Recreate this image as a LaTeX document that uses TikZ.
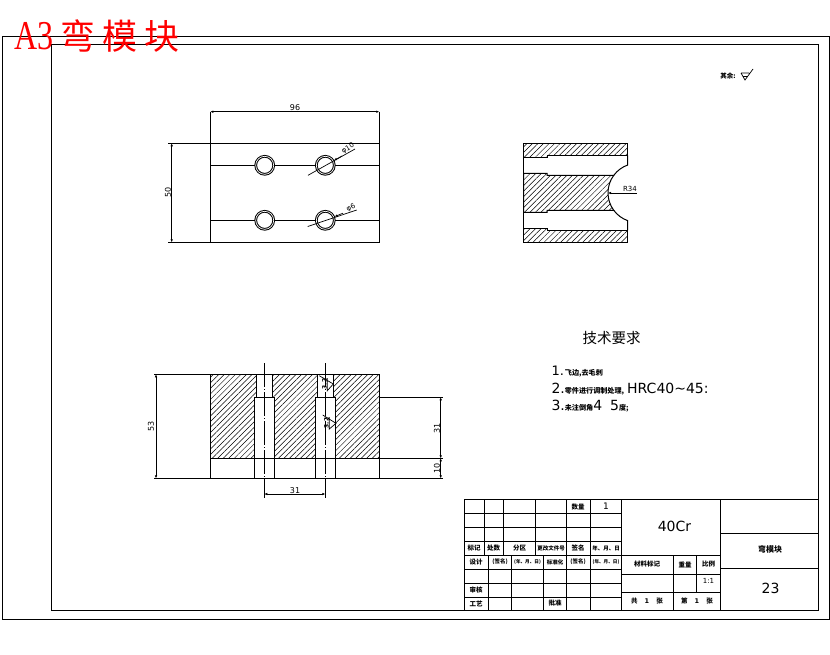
\documentclass[tikz,border=0pt]{standalone}
\usepackage{fontspec}
\setmainfont{DejaVu Sans}
\newfontfamily\cjk{Noto Sans CJK SC}
\newfontfamily\romanfont[FakeStretch=0.78]{Liberation Serif}
\newcommand{\reqcn}{\cjk\bfseries\fontsize{7.1}{8}\selectfont}
\usetikzlibrary{positioning,arrows.meta,patterns.meta}
\tikzset{>={Latex[length=3pt,width=2.6pt]}}

\begin{document}
\begin{tikzpicture}[x=1pt, y=-1pt, line width=1pt]
    \tikzset{%
      hatched/.style={draw, pattern={Lines[angle=45, distance=3.9pt, line width=0.5pt]}},
      hole/.style={circle, draw, fill=white, double, double distance=0.7pt, minimum size=18pt, inner sep=0pt},
      centerln/.style={dash pattern=on 24pt off 2pt on 1pt off 2pt, line width=0.8pt},
      dimln/.style={<->, line width=0.9pt},
      dimtxt/.style={font=\fontsize{8}{8}\selectfont, inner sep=0pt},
      cell/.style={font=\cjk\bfseries\fontsize{6.5}{7}\selectfont, inner sep=0pt},
      cellsm/.style={font=\cjk\bfseries\fontsize{5.5}{6}\selectfont, inner sep=0pt},
      reqtxt/.style={font=\fontsize{14}{15}\selectfont, inner sep=0pt, anchor=west},
      rough/.style={line width=0.7pt}
      }
    \useasboundingbox (0,0) rectangle (830,654);

    \draw (2.5,36.5) rectangle (829,619);
    \draw (51.5,44.5) rectangle (818.5,610);
    \node [font=\romanfont\fontsize{41}{41}\selectfont, text=red, inner sep=0pt, anchor=west] (Ytitle) at (14,36) {A3\hspace{7pt}\cjk\fontsize{35}{35}\selectfont 弯\hspace{7pt}模\hspace{7pt}块};

    \node [cell] (Yrest) at (728,76) {其余:};
    \draw [rough] (741,73) -- (749,73) (742.5,76.5) -- (747.5,76.5) (741,73) -- (745,80) -- (753,69);

    \draw (210.3,143.3) rectangle (379.3,242.3);
    \node [hole] (YholeA) at (264.7,165.3) {};
    \node [hole] (YholeB) at (325.3,165.3) {};
    \node [hole] (YholeC) at (264.7,220.3) {};
    \node [hole] (YholeD) at (325.3,220.3) {};
    \coordinate (YtopL) at (210.3,165.3);
    \coordinate (YtopR) at (379.3,165.3);
    \coordinate (YlowL) at (210.3,220.3);
    \coordinate (YlowR) at (379.3,220.3);
    \draw (YtopL) -- (YholeA) -- (YholeB) -- (YtopR);
    \draw (YlowL) -- (YholeC) -- (YholeD) -- (YlowR);

    \coordinate (Ywa) at (210.3,111.7);
    \coordinate (Ywb) at (379.3,111.7);
    \draw (Ywa) -- (210.3,143.3);
    \draw (Ywb) -- (379.3,143.3);
    \draw [dimln] (Ywa) -- (Ywb);
    \node [dimtxt] (Ytw) at (295,107.5) {96};
    \coordinate (Yha) at (171.7,143.3);
    \coordinate (Yhb) at (171.7,242.3);
    \draw (168,143.3) -- (210.3,143.3);
    \draw (168,242.3) -- (210.3,242.3);
    \draw [dimln] (Yha) -- (Yhb);
    \node [dimtxt, rotate=90] (Yth) at (168,192.5) {50};

    \coordinate (YldA) at (308,175.3);
    \coordinate (YldB) at (355,149);
    \coordinate (YldC) at (307.7,226.5);
    \coordinate (YldD) at (356.7,210);
    \draw [line width=0.7pt] (YldA) -- (YldB);
    \draw [line width=0.7pt] (YldC) -- (YldD);
    \draw [->, line width=0.7pt] (342,156) -- (334,160.4);
    \draw [->, line width=0.7pt] (343,213.2) -- (334.6,216.6);
    \node [dimtxt, rotate=30, font=\fontsize{7}{7}\selectfont] (Ytd) at (348,148.5) {φ10};
    \node [dimtxt, rotate=25, font=\fontsize{7}{7}\selectfont] (Yts) at (351,207.5) {φ6};

    \draw [hatched] (523.7,143.7) -- (627.7,143.7) -- (627.7,155.3) -- (547,155.3) -- (547,157.3) -- (523.7,157.3) -- cycle;
    \draw [hatched] (523.7,228.3) -- (547,228.3) -- (547,230.3) -- (627.7,230.3) -- (627.7,242.3) -- (523.7,242.3) -- cycle;
    \draw [hatched] (523.7,173.3) -- (547,173.3) -- (547,175.3) -- (613.75,175.3) arc[start angle=-143.6, end angle=-216.4, radius=29.5] -- (547,210.3) -- (547,212.3) -- (523.7,212.3) -- cycle;
    \draw (627.7,155.3) -- (627.7,165) arc[start angle=-109.5, end angle=-143.6, radius=29.5];
    \draw (613.75,210.3) arc[start angle=-216.4, end angle=-250.5, radius=29.5] -- (627.7,230.3);
    \draw (523.7,157.3) -- (523.7,173.3);
    \draw (523.7,212.3) -- (523.7,228.3);
    \coordinate (YrTip) at (608,193);
    \coordinate (YrEnd) at (637,193);
    \draw [<-, line width=0.7pt] (YrTip) -- (YrEnd);
    \node [dimtxt, font=\fontsize{7}{7}\selectfont] (Ytr) at (630,189) {R34};

    \draw [hatched] (210.3,374.3) -- (256.7,374.3) -- (256.7,397.3) -- (254.7,397.3) -- (254.7,458.3) -- (210.3,458.3) -- cycle;
    \draw [hatched] (272.3,374.3) -- (317.7,374.3) -- (317.7,397.3) -- (315.7,397.3) -- (315.7,458.3) -- (274.3,458.3) -- (274.3,397.3) -- (272.3,397.3) -- cycle;
    \draw [hatched] (333.3,374.3) -- (379.3,374.3) -- (379.3,458.3) -- (335.3,458.3) -- (335.3,397.3) -- (333.3,397.3) -- cycle;
    \draw (256.7,374.3) -- (272.3,374.3);
    \draw (317.7,374.3) -- (333.3,374.3);
    \draw (256.7,397.3) -- (272.3,397.3);
    \draw (317.7,397.3) -- (333.3,397.3);
    \draw (210.3,458.3) -- (210.3,478.3);
    \draw (254.7,458.3) -- (254.7,478.3);
    \draw (274.3,458.3) -- (274.3,478.3);
    \draw (315.7,458.3) -- (315.7,478.3);
    \draw (335.3,458.3) -- (335.3,478.3);
    \draw (379.3,458.3) -- (379.3,478.3);
    \draw (154,374.3) -- (210.3,374.3);
    \draw (154,478.3) -- (443,478.3);
    \draw (379.3,397.3) -- (443,397.3);
    \draw (379.3,458.3) -- (443,458.3);
    \draw (210.3,458.3) -- (379.3,458.3);

    \coordinate (YcA) at (264.3,363);
    \coordinate (YcB) at (264.3,498);
    \coordinate (YcC) at (325.3,363);
    \coordinate (YcD) at (325.3,498);
    \draw [centerln] (YcA) -- (YcB);
    \draw [centerln] (YcC) -- (YcD);

    \coordinate (Ydh) at (156,374.3);
    \coordinate (Ydi) at (156,478.3);
    \draw [dimln] (Ydh) -- (Ydi);
    \node [dimtxt, rotate=90] (Yt53) at (151,426) {53};
    \coordinate (Yra) at (440.7,397.3);
    \coordinate (Yrb) at (440.7,458.3);
    \coordinate (Yrc) at (440.7,478.3);
    \draw [dimln] (Yra) -- (Yrb);
    \draw [dimln] (Yrb) -- (Yrc);
    \node [dimtxt, rotate=90] (Yt31) at (437,428) {31};
    \node [dimtxt, rotate=90] (Yt10) at (437,468) {10};
    \coordinate (Ybl) at (264.3,494);
    \coordinate (Ybr) at (325.3,494);
    \draw [dimln] (Ybl) -- (Ybr);
    \node [dimtxt] (Ytb) at (295,490.5) {31};

    \draw [rough] (319.3,375.7) -- (333.3,384) -- (327.3,390.7) -- (327.3,378);
    \draw [rough] (322.7,415) -- (336,423.3) -- (329.3,429) -- (329.3,417);
    \node [dimtxt, rotate=90, font=\fontsize{6}{6}\bfseries\selectfont] (Ysa) at (324.5,384) {3.2};
    \node [dimtxt, rotate=90, font=\fontsize{6}{6}\bfseries\selectfont] (Ysb) at (326.5,423) {3.2};

    \node [font=\cjk\fontsize{14.5}{16}\selectfont, inner sep=0pt] (Yreq) at (611.5,338) {技术要求};
    \node [reqtxt, font=\fontsize{13}{13}\selectfont] (Yreqa) at (551,371.5) {1.\hspace{1pt}{\reqcn 飞边,去毛刺}};
    \node [reqtxt] (Yreqb) at (551,389) {2.{\reqcn 零件进行调制处理,}\hspace{3pt}HRC40\textasciitilde45:};
    \node [reqtxt] (Yreqc) at (551,406) {3.{\reqcn 未注倒角}4\hspace{8pt}5{\reqcn 度;}};

    \draw (464,499.7) rectangle (720.3,610);
    \draw (720.3,499.7) rectangle (818.5,610);
    \draw (720.3,533.3) -- (818.5,533.3);
    \draw (720.3,568.3) -- (818.5,568.3);
    \draw (621.3,499.7) -- (621.3,610);
    \draw (464,513.3) -- (621.3,513.3);
    \draw (464,527.3) -- (621.3,527.3);
    \draw (464,541.3) -- (621.3,541.3);
    \draw (464,555) -- (720.3,555);
    \draw (464,569) -- (621.3,569);
    \draw (464,583) -- (621.3,583);
    \draw (464,597) -- (621.3,597);
    \draw (621.3,574.3) -- (720.3,574.3);
    \draw (621.3,592.3) -- (720.3,592.3);
    \foreach \xcol in {484.3,503.3,535.7,566.3,590.3}
      \draw (\xcol,499.7) -- (\xcol,555);
    \foreach \xcol in {488.3,511.3,543.3,566.3,590.3}
      \draw (\xcol,555) -- (\xcol,610);
    \draw (673.3,555) -- (673.3,610);
    \draw (696.7,555) -- (696.7,592.3);

    \node [cell] (Yqty) at (578,507) {数量};
    \node [dimtxt, font=\fontsize{9}{9}\selectfont] (Yqtyn) at (606,506.5) {1};
    \node [cell] (Ymark) at (474,548) {标记};
    \node [cell] (Ycnt) at (493.5,548) {处数};
    \node [cell] (Yzone) at (519.5,548) {分区};
    \node [cellsm] (Ydoc) at (551,548) {更改文件号};
    \node [cell] (Ysign) at (578,548) {签名};
    \node [cellsm] (Ydate) at (606,548) {年、月、日};
    \node [cell] (Ydes) at (476,562) {设计};
    \node [cellsm] (Ydsign) at (500,562) {(签名)};
    \node [cellsm, font=\cjk\bfseries\fontsize{4.6}{6}\selectfont] (Yddate) at (527.5,562) {(年、月、日)};
    \node [cellsm] (Ystd) at (555,562) {标准化};
    \node [cellsm] (Yssign) at (578,562) {(签名)};
    \node [cellsm, font=\cjk\bfseries\fontsize{4.6}{6}\selectfont] (Ysdate) at (606,562) {(年、月、日)};
    \node [cell] (Ychk) at (476,590) {审核};
    \node [cell] (Yproc) at (476,603.5) {工艺};
    \node [cell] (Yappr) at (555,603.5) {批准};
    \node [cell] (Ymat) at (647,564.5) {材料标记};
    \node [cell] (Ywgt) at (685,564.5) {重量};
    \node [cell] (Yscl) at (708.5,564.5) {比例};
    \node [dimtxt, font=\fontsize{7}{7}\selectfont] (Yratio) at (708.5,581) {1:1};
    \node [cell] (Ysheet) at (647,601.5) {共\hspace{7pt}{\fontspec{DejaVu Sans}1}\hspace{7pt}张};
    \node [cell] (Yno) at (697,601) {第\hspace{7pt}{\fontspec{DejaVu Sans}1}\hspace{7pt}张};
    \node [dimtxt, font=\fontsize{14}{14}\selectfont] (Ymatl) at (674.5,526) {40Cr};
    \node [cell, font=\cjk\bfseries\fontsize{8}{8}\selectfont] (Yname) at (770,549.5) {弯模块};
    \node [dimtxt, font=\fontsize{14}{14}\selectfont] (Ydwg) at (770.5,588.5) {23};

  \end{tikzpicture}
\end{document}
